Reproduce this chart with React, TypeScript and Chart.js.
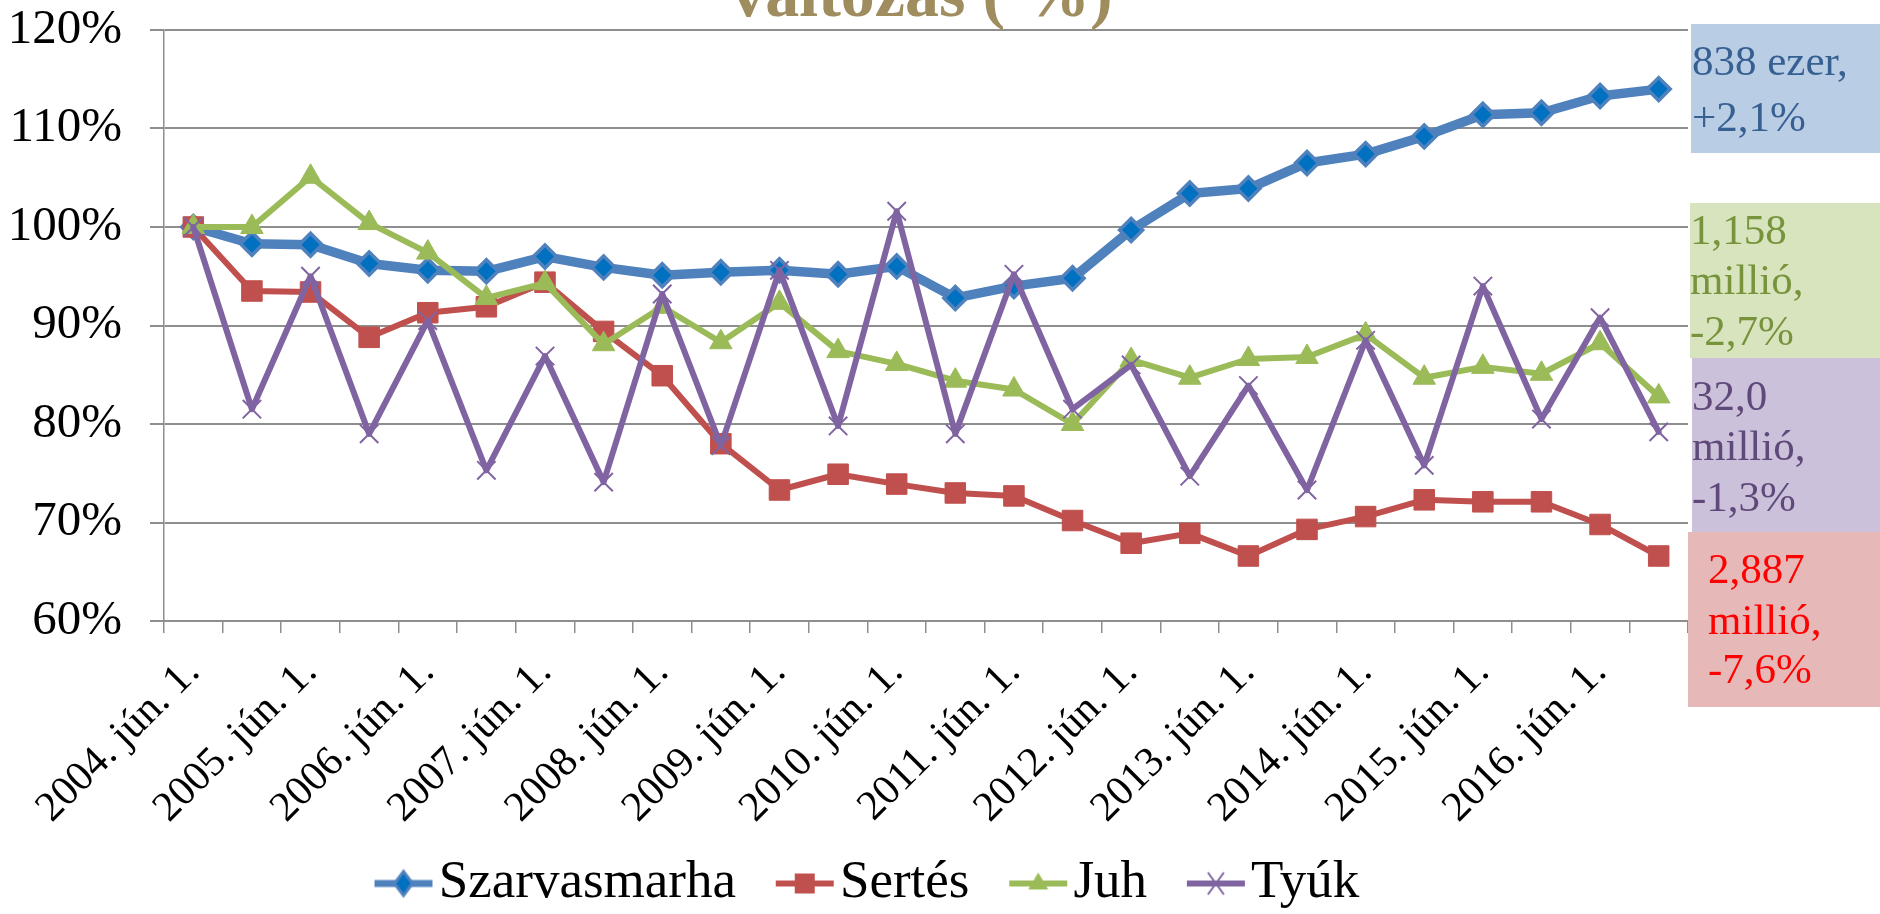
import React, { useEffect, useRef } from "react";
import { Chart, registerables } from "chart.js";

Chart.register(...registerables);

// ---------------- DATA ----------------
const CATEGORIES = [
  "2004. jún. 1.", "2004. dec. 1.",
  "2005. jún. 1.", "2005. dec. 1.",
  "2006. jún. 1.", "2006. dec. 1.",
  "2007. jún. 1.", "2007. dec. 1.",
  "2008. jún. 1.", "2008. dec. 1.",
  "2009. jún. 1.", "2009. dec. 1.",
  "2010. jún. 1.", "2010. dec. 1.",
  "2011. jún. 1.", "2011. dec. 1.",
  "2012. jún. 1.", "2012. dec. 1.",
  "2013. jún. 1.", "2013. dec. 1.",
  "2014. jún. 1.", "2014. dec. 1.",
  "2015. jún. 1.", "2015. dec. 1.",
  "2016. jún. 1.", "2016. dec. 1.",
];

const SZARVASMARHA = [100, 98.3, 98.2, 96.3, 95.6, 95.5, 97.0, 95.9, 95.1, 95.4, 95.6, 95.2, 96.0, 92.8, 94.0, 94.8, 99.7, 103.4, 103.9, 106.5, 107.4, 109.2, 111.4, 111.6, 113.3, 114.0];
const SERTES = [100, 93.5, 93.4, 88.8, 91.3, 91.9, 94.4, 89.4, 84.9, 78.0, 73.3, 74.9, 73.9, 73.0, 72.7, 70.2, 67.9, 68.9, 66.6, 69.3, 70.6, 72.3, 72.1, 72.1, 69.8, 66.6];
const JUH = [100, 100, 105.1, 100.4, 97.4, 92.8, 94.3, 88.1, 91.9, 88.3, 92.3, 87.4, 86.1, 84.4, 83.5, 80.0, 86.5, 84.7, 86.6, 86.8, 89.1, 84.7, 85.8, 85.1, 88.2, 82.8];
const TYUK = [100, 81.5, 95.0, 79.0, 90.5, 75.3, 86.9, 74.1, 93.2, 77.8, 95.6, 79.8, 101.6, 79.0, 95.2, 81.5, 86.0, 74.7, 83.9, 73.3, 88.5, 75.8, 94.0, 80.5, 90.8, 79.2];

const SERIES_NAMES = ["Szarvasmarha", "Sertés", "Juh", "Tyúk"];

const Y_MIN = 60;
const Y_MAX = 120;
const Y_STEP = 10;

const TITLE_TEXT = "változás ( %)";

const NOTE_SZARVASMARHA = ["838 ezer,", "+2,1%"];
const NOTE_JUH = ["1,158", "millió,", "-2,7%"];
const NOTE_TYUK = ["32,0", "millió,", "-1,3%"];
const NOTE_SERTES = ["2,887", "millió,", "-7,6%"];

// ---------------- STYLE ----------------
const SERIF = '"Liberation Serif", "Times New Roman", serif';
const GRID = "#8E8E8E";

const STYLES = [
  { line: "#4F81BD", width: 9.5, point: "rectRot", radius: 11.5, fill: "#0070C0", stroke: "#4F81BD", pbw: 3.5 },
  { line: "#C0504D", width: 6, point: "rect", radius: 14.5, fill: "#C0504D", stroke: "#C0504D", pbw: 1 },
  { line: "#9BBB59", width: 6, point: "triangle", radius: 13, fill: "#9BBB59", stroke: "#9BBB59", pbw: 1 },
  { line: "#8064A2", width: 6, point: "crossRot", radius: 13, fill: "#8064A2", stroke: "#8064A2", pbw: 2 },
];

const NOTES = [
  { lines: NOTE_SZARVASMARHA, box: "#B9CDE5", color: "#376092", x: 1691, y: 24, w: 189, h: 129, tx: 1692, baselines: [75, 131] },
  { lines: NOTE_JUH, box: "#D7E4BD", color: "#77933C", x: 1690, y: 203, w: 190, h: 155, tx: 1690, baselines: [244, 294, 345] },
  { lines: NOTE_TYUK, box: "#CCC1DA", color: "#5F497A", x: 1692, y: 358, w: 188, h: 174, tx: 1692, baselines: [410, 460, 511] },
  { lines: NOTE_SERTES, box: "#E6B9B8", color: "#FF0000", x: 1688, y: 532, w: 192, h: 175, tx: 1708, baselines: [583, 634, 683] },
];

// legend icon: transparent canvas, visible line+marker drawn in its right part
function makeIcon(s: any): HTMLCanvasElement {
  const c = document.createElement("canvas");
  c.width = 110;
  c.height = 32;
  const ctx = c.getContext("2d")!;
  const x0 = 51;
  const cx = x0 + 29, cy = 16;
  ctx.strokeStyle = s.line;
  ctx.lineWidth = Math.min(s.width, 7);
  ctx.beginPath();
  ctx.moveTo(x0, cy);
  ctx.lineTo(x0 + 58, cy);
  ctx.stroke();
  ctx.fillStyle = s.fill;
  ctx.strokeStyle = s.stroke;
  ctx.lineWidth = s.pbw;
  ctx.beginPath();
  if (s.point === "rectRot") {
    const r = 12;
    ctx.moveTo(cx, cy - r);
    ctx.lineTo(cx + r * 0.75, cy);
    ctx.lineTo(cx, cy + r);
    ctx.lineTo(cx - r * 0.75, cy);
    ctx.closePath();
    ctx.fill();
    ctx.lineWidth = 3;
    ctx.stroke();
  } else if (s.point === "rect") {
    ctx.rect(cx - 10, cy - 10, 20, 20);
    ctx.fill();
  } else if (s.point === "triangle") {
    ctx.moveTo(cx, cy - 11);
    ctx.lineTo(cx + 10, cy + 6);
    ctx.lineTo(cx - 10, cy + 6);
    ctx.closePath();
    ctx.fill();
  } else if (s.point === "crossRot") {
    ctx.moveTo(cx - 8, cy - 11);
    ctx.lineTo(cx + 8, cy + 11);
    ctx.moveTo(cx + 8, cy - 11);
    ctx.lineTo(cx - 8, cy + 11);
    ctx.stroke();
  }
  return c;
}

const decorPlugin = {
  id: "decor",
  afterDraw(chart: any) {
    const ctx = chart.ctx as CanvasRenderingContext2D;
    ctx.save();
    // title (upper part falls outside the page)
    ctx.font = `bold 68px ${SERIF}`;
    ctx.fillStyle = "#A08D5F";
    ctx.textAlign = "center";
    ctx.textBaseline = "alphabetic";
    ctx.fillText(TITLE_TEXT, 922, 16);
    // annotation boxes
    ctx.textAlign = "left";
    ctx.font = `43px ${SERIF}`;
    NOTES.forEach((n) => {
      ctx.fillStyle = n.box;
      ctx.fillRect(n.x, n.y, n.w, n.h);
      ctx.fillStyle = n.color;
      n.lines.forEach((t, i) => ctx.fillText(t, n.tx, n.baselines[i]));
    });
    ctx.restore();
  },
};

export default function App() {
  const ref = useRef<HTMLCanvasElement>(null);

  useEffect(() => {
    const seriesData = [SZARVASMARHA, SERTES, JUH, TYUK];
    const icons = STYLES.map(makeIcon);
    const datasets = SERIES_NAMES.map((name, i) => {
      const s = STYLES[i];
      return {
        label: name,
        data: seriesData[i],
        borderColor: s.line,
        backgroundColor: s.fill,
        borderWidth: s.width,
        borderJoinStyle: "round",
        borderCapStyle: "round",
        pointStyle: s.point,
        pointRadius: s.radius,
        pointBackgroundColor: s.fill,
        pointBorderColor: s.stroke,
        pointBorderWidth: s.pbw,
        tension: 0,
        fill: false,
        order: 4 - i,
      };
    });

    const chart = new Chart(ref.current!, {
      type: "line",
      data: { labels: CATEGORIES, datasets: datasets as any },
      plugins: [decorPlugin],
      options: {
        responsive: false,
        animation: false,
        devicePixelRatio: 1,
        layout: { padding: { top: 30, right: 176, bottom: 0, left: 0 } },
        plugins: {
          title: { display: false },
          tooltip: { enabled: false },
          legend: {
            display: true,
            position: "bottom",
            align: "center",
            labels: {
              usePointStyle: true,
              pointStyleWidth: 67.5,
              padding: 10,
              color: "#000",
              font: { family: SERIF, size: 53 },
              generateLabels: () =>
                SERIES_NAMES.map((name, i) => ({
                  text: name,
                  pointStyle: icons[i],
                  fillStyle: STYLES[i].fill,
                  strokeStyle: STYLES[i].line,
                  lineWidth: 0,
                  hidden: false,
                  datasetIndex: i,
                })) as any,
            },
          },
        },
        scales: {
          x: {
            type: "category",
            offset: true,
            afterFit: (s: any) => {
              s.height = 920 - 73 - 621;
              s.paddingLeft = 0;
              s.paddingRight = 0;
            },
            grid: {
              display: true,
              drawOnChartArea: false,
              drawTicks: true,
              tickLength: 12,
              offset: true,
              color: GRID,
              lineWidth: 1.5,
            },
            border: { display: true, color: GRID, width: 2 },
            ticks: {
              autoSkip: false,
              minRotation: 45,
              maxRotation: 45,
              padding: 15,
              color: "#000",
              font: { family: SERIF, size: 42 },
              callback: (_v: any, i: number) => (i % 2 === 0 ? CATEGORIES[i] : ""),
            },
          },
          y: {
            min: Y_MIN,
            max: Y_MAX,
            afterFit: (s: any) => {
              s.width = 164;
              s.paddingTop = 0;
              s.paddingBottom = 0;
            },
            grid: { color: GRID, lineWidth: 2, tickLength: 14 },
            border: { display: true, color: GRID, width: 1.5 },
            ticks: {
              stepSize: Y_STEP,
              padding: 28,
              color: "#000",
              font: { family: SERIF, size: 49 },
              callback: (v: any) => `${v}%`,
            },
          },
          y2: {
            position: "right",
            display: true,
            afterFit: (s: any) => {
              s.width = 16;
              s.paddingTop = 0;
              s.paddingBottom = 0;
            },
            grid: { display: false, drawTicks: false },
            border: { display: false },
            ticks: { display: false },
          },
        },
      } as any,
    });
    return () => chart.destroy();
  }, []);

  return (
    <div
      style={{
        position: "absolute",
        left: 0,
        top: 0,
        width: 1880,
        height: 914,
        overflow: "hidden",
        background: "#fff",
      }}
    >
      <canvas ref={ref} width={1880} height={920} style={{ display: "block", width: 1880, height: 920 }} />
    </div>
  );
}
